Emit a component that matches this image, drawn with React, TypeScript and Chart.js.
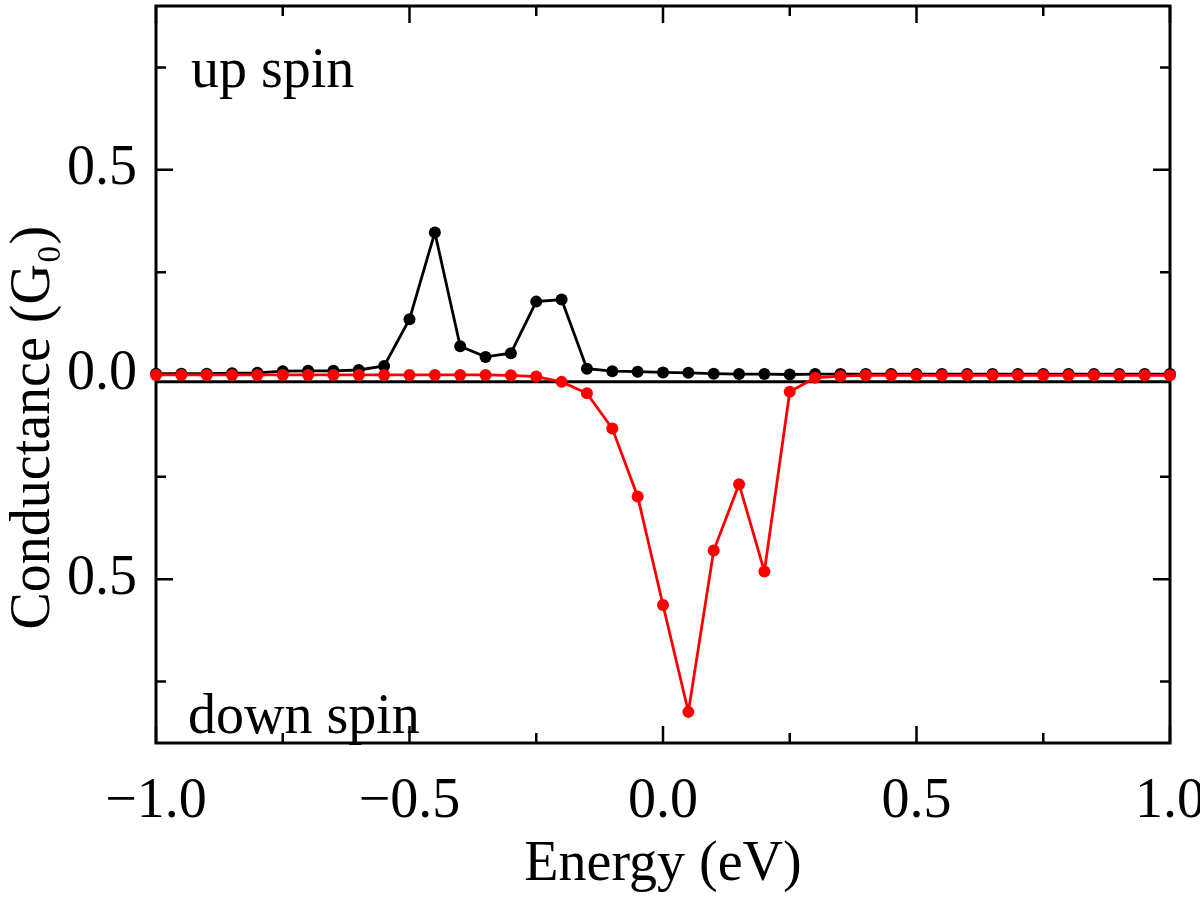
import React, { useEffect, useRef } from "react";
import { Chart, registerables } from "chart.js";

Chart.register(...registerables);

const ENERGY = [
  -1.0, -0.95, -0.9, -0.85, -0.8, -0.75, -0.7, -0.65, -0.6, -0.55,
  -0.5, -0.45, -0.4, -0.35, -0.3, -0.25, -0.2, -0.15, -0.1, -0.05,
  0.0, 0.05, 0.1, 0.15, 0.2, 0.25, 0.3, 0.35, 0.4, 0.45,
  0.5, 0.55, 0.6, 0.65, 0.7, 0.75, 0.8, 0.85, 0.9, 0.95, 1.0,
];

const UP_SPIN = [
  0.002, 0.002, 0.002, 0.003, 0.004, 0.008, 0.009, 0.009, 0.011, 0.021,
  0.135, 0.347, 0.069, 0.043, 0.052, 0.178, 0.183, 0.014, 0.008, 0.007,
  0.005, 0.004, 0.002, 0.001, 0.001, 0.0, 0.001, 0.001, 0.001, 0.001,
  0.001, 0.001, 0.001, 0.001, 0.001, 0.001, 0.001, 0.001, 0.001, 0.001, 0.001,
];

const DOWN_SPIN = [
  -0.001, -0.001, -0.001, -0.001, -0.001, -0.001, -0.001, -0.001, -0.001, -0.001,
  -0.001, -0.001, -0.001, -0.001, -0.002, -0.005, -0.018, -0.046, -0.132, -0.298,
  -0.563, -0.824, -0.43, -0.268, -0.481, -0.042, -0.008, -0.004, -0.002, -0.002,
  -0.002, -0.002, -0.002, -0.002, -0.002, -0.002, -0.002, -0.002, -0.002, -0.002, -0.002,
];

const X_MAJOR = [-1.0, -0.5, 0.0, 0.5, 1.0];
const X_MINOR = [-0.75, -0.25, 0.25, 0.75];
const Y_MAJOR = [-0.5, 0.0, 0.5];
const Y_MINOR = [-0.75, -0.25, 0.25, 0.75];
const BASELINE = -0.018;
const LABEL_UP = "up spin";
const LABEL_DOWN = "down spin";
const Y_TITLE = "Conductance (G\u2080)";

const FONT = "'Liberation Serif', 'Times New Roman', serif";

const framePlugin = {
  id: "frame",
  beforeDatasetsDraw(chart: any) {
    const { ctx, chartArea: a, scales } = chart;
    const xs = scales.x;
    const ys = scales.y;
    ctx.save();
    ctx.strokeStyle = "#000";
    ctx.lineWidth = 3;
    const by = ys.getPixelForValue(BASELINE);
    ctx.beginPath();
    ctx.moveTo(a.left, by);
    ctx.lineTo(a.right, by);
    ctx.stroke();
    ctx.lineWidth = 2.5;
    const tick = (vals: number[], len: number) => {
      for (const v of vals) {
        const px = xs.getPixelForValue(v);
        ctx.beginPath();
        ctx.moveTo(px, a.bottom);
        ctx.lineTo(px, a.bottom - len);
        ctx.moveTo(px, a.top);
        ctx.lineTo(px, a.top + len);
        ctx.stroke();
      }
    };
    const ytick = (vals: number[], len: number) => {
      for (const v of vals) {
        const py = ys.getPixelForValue(v);
        ctx.beginPath();
        ctx.moveTo(a.left, py);
        ctx.lineTo(a.left + len, py);
        ctx.moveTo(a.right, py);
        ctx.lineTo(a.right - len, py);
        ctx.stroke();
      }
    };
    tick(X_MAJOR, 17);
    tick(X_MINOR, 10);
    ytick(Y_MAJOR, 17);
    ytick(Y_MINOR, 10);
    ctx.lineWidth = 3;
    ctx.strokeRect(a.left, a.top, a.right - a.left, a.bottom - a.top);
    ctx.fillStyle = "#000";
    ctx.font = `56px ${FONT}`;
    ctx.textAlign = "left";
    ctx.textBaseline = "alphabetic";
    ctx.fillText(LABEL_UP, a.left + 35, a.top + 81);
    ctx.fillText(LABEL_DOWN, a.left + 32, a.bottom - 10);
    // y axis title
    ctx.save();
    ctx.translate(34, ys.getPixelForValue(-0.13));
    ctx.rotate(-Math.PI / 2);
    ctx.textAlign = "center";
    ctx.textBaseline = "middle";
    ctx.fillText(Y_TITLE, 0, 0);
    ctx.restore();
    ctx.restore();
  },
};

export default function App() {
  const ref = useRef<HTMLCanvasElement | null>(null);
  useEffect(() => {
    if (!ref.current) return;
    const fmt = (v: number) => (v < 0 ? "\u2212" : "") + Math.abs(v).toFixed(1);
    const chart = new Chart(ref.current, {
      type: "line",
      data: {
        datasets: [
          {
            label: "down spin",
            data: ENERGY.map((x, i) => ({ x, y: DOWN_SPIN[i] })),
            borderColor: "#ff0000",
            backgroundColor: "#ff0000",
            borderWidth: 2.8,
            pointRadius: 6,
            pointBorderWidth: 0,
            clip: false,
          } as any,
          {
            label: "up spin",
            data: ENERGY.map((x, i) => ({ x, y: UP_SPIN[i] })),
            borderColor: "#000000",
            backgroundColor: "#000000",
            borderWidth: 2.8,
            pointRadius: 6,
            pointBorderWidth: 0,
            clip: false,
          } as any,
        ],
      },
      options: {
        animation: false,
        responsive: true,
        maintainAspectRatio: false,
        layout: { padding: { top: 2, right: 30, left: 0, bottom: 0 } },
        plugins: { legend: { display: false }, tooltip: { enabled: false } },
        scales: {
          x: {
            type: "linear",
            min: -1,
            max: 1,
            grid: { display: false, drawTicks: false },
            border: { display: false },
            afterBuildTicks: (s: any) => {
              s.ticks = X_MAJOR.map((v) => ({ value: v }));
            },
            afterFit: (s: any) => {
              s.height = 156;
              s.paddingLeft = 0;
              s.paddingRight = 0;
            },
            ticks: {
              padding: 26,
              color: "#000",
              font: { family: FONT, size: 56 },
              callback: (v: any) => fmt(Number(v)),
              maxRotation: 0,
              autoSkip: false,
            },
            title: {
              display: true,
              text: "Energy (eV)",
              color: "#000",
              font: { family: FONT, size: 56 },
              padding: 0,
            },
          },
          y: {
            type: "linear",
            min: -0.9,
            max: 0.9,
            grid: { display: false, drawTicks: false },
            border: { display: false },
            afterBuildTicks: (s: any) => {
              s.ticks = Y_MAJOR.map((v) => ({ value: v }));
            },
            afterFit: (s: any) => {
              s.width = 156;
              s.paddingTop = 0;
              s.paddingBottom = 0;
            },
            ticks: {
              padding: 19,
              color: "#000",
              font: { family: FONT, size: 56 },
              callback: (v: any) => Math.abs(Number(v)).toFixed(1),
              autoSkip: false,
            },
            title: { display: false },
          },
        },
      },
      plugins: [framePlugin],
    } as any);
    return () => chart.destroy();
  }, []);
  return (
    <div style={{ position: "absolute", left: 0, top: 0, width: 1200, height: 899, background: "#fff" }}>
      <canvas ref={ref} />
    </div>
  );
}
